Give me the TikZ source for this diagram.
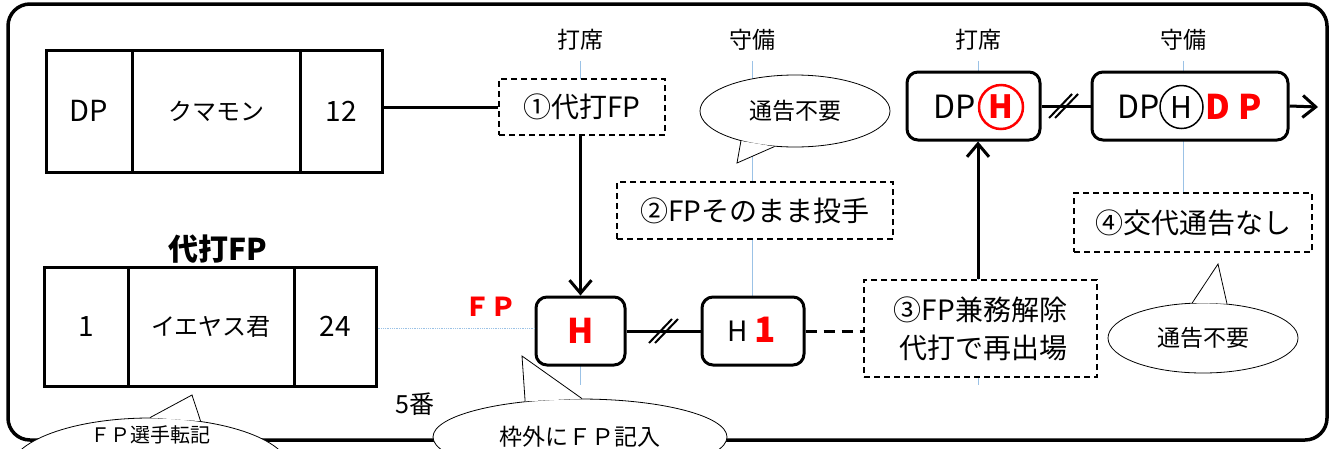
\documentclass[tikz,border=0pt]{standalone}
\usepackage{fontspec}
\setmainfont{Noto Sans CJK JP}
\usetikzlibrary{shapes.geometric,arrows.meta,calc}
\definecolor{guideblue}{RGB}{155,194,230}
\definecolor{hred}{RGB}{255,0,0}
\tikzset{
  cell/.style={draw, line width=3pt, fill=white, inner sep=0pt},
  rbox/.style={draw, line width=3pt, rounded corners=11pt, fill=white, inner sep=0pt, minimum height=68pt},
  dbox/.style={draw, line width=2pt, dash pattern=on 6pt off 4pt, fill=white, inner sep=0pt, font=\fontsize{28}{38}\selectfont},
  bubble/.style={ellipse, draw, line width=0.8pt, fill=white, inner sep=0pt, font=\fontsize{23}{26}\selectfont},
  guide/.style={draw=guideblue, line width=0.8pt},
  conn/.style={line width=3pt},
  arr/.style={line width=3pt, -{Straight Barb[length=13pt,width=22pt]}},
  slash/.style={line width=2pt},
  lbl/.style={inner sep=0pt, font=\fontsize{23}{26}\selectfont},
  plain/.style={inner sep=0pt}
}
\begin{document}
\begin{tikzpicture}[x=1pt,y=-1pt]
\useasboundingbox (0,0) rectangle (1335,448);
\begin{scope}
\clip (0,0) rectangle (1335,448);
\fill[white] (0,0) rectangle (1335,448);

% column labels
\node[lbl] (lbl1) at (580,40) {打席};
\node[lbl] (lbl2) at (752,40) {守備};
\node[lbl] (lbl3) at (978,40) {打席};
\node[lbl] (lbl4) at (1183,40) {守備};

\coordinate (g1b) at (580,385);
\coordinate (g3b) at (978,385);

% outer frame
\draw[line width=3.5pt, rounded corners=22pt] (8,4) rectangle (1327,440);

% guide lines (behind boxes)
\draw[guide] ([yshift=-10pt]lbl1.south) -- (g1b);
\draw[guide] ([yshift=-10pt]lbl2.south) -- (752,297);
\draw[guide] ([yshift=-10pt]lbl3.south) -- (g3b);
\draw[guide] ([yshift=-10pt]lbl4.south) -- (1183,193);

% lineup cards
\node[cell, minimum width=86pt, minimum height=122pt, font=\fontsize{29}{32}\selectfont] (kdp) at (89,111) {DP};
\node[cell, minimum width=168pt, minimum height=122pt, font=\fontsize{24}{28}\selectfont] (kname) at (216,111) {クマモン};
\node[cell, minimum width=82pt, minimum height=122pt, font=\fontsize{28}{32}\selectfont] (k12) at (341,111) {12};

\node[plain, font=\fontsize{30}{32}\selectfont\bfseries] (tlbl) at (218,249) {代打FP};
\node[cell, minimum width=84pt, minimum height=119pt, font=\fontsize{28}{32}\selectfont] (k1) at (86,326.5) {1};
\node[cell, minimum width=166pt, minimum height=119pt, font=\fontsize{24}{28}\selectfont] (kname2) at (211,326.5) {イエヤス君};
\node[cell, minimum width=82pt, minimum height=119pt, font=\fontsize{28}{32}\selectfont] (k24) at (335,326.5) {24};

\node[plain, font=\fontsize{25}{28}\selectfont] (ban) at (415,404) {5番};
\node[plain, text=hred, font=\fontsize{26}{28}\selectfont\bfseries] (fp) at (490,307) {ＦＰ};

% step boxes
\node[dbox, minimum width=166pt, minimum height=56pt] (s1) at (582,107) {①代打FP};
\node[dbox, minimum width=276pt, minimum height=57pt] (s2) at (755,210.5) {②FPそのまま投手};
\node[dbox, minimum width=233pt, minimum height=97pt, align=right] (s3) at (980.5,328.5) {③FP兼務解除\\代打で再出場};
\node[dbox, minimum width=238pt, minimum height=59pt] (s4) at (1193,222.5) {④交代通告なし};

% state boxes
\node[rbox, minimum width=89pt, text=hred, font=\fontsize{34}{36}\selectfont\bfseries] (h) at (580.5,331) {H};
\node[rbox, minimum width=102pt] (h1) at (753,331) {};
\node[plain, font=\fontsize{28}{30}\selectfont] (h1a) at (737.5,331) {H};
\node[plain, text=hred, font=\fontsize{35}{36}\selectfont\bfseries] (h1b) at (765,330) {1};

\node[rbox, minimum width=133pt] (dph) at (973.5,106) {};
\node[plain, font=\fontsize{32}{34}\selectfont] (dpha) at (955,107) {DP};
\node[circle, draw=hred, line width=2.5pt, minimum size=44pt, inner sep=0pt, text=hred, font=\fontsize{32}{34}\selectfont\bfseries] (dphb) at (1001,107) {H};

\node[rbox, minimum width=196pt] (dphdp) at (1190,106) {};
\node[plain, font=\fontsize{32}{34}\selectfont] (dpa) at (1138.5,107) {DP};
\node[circle, draw, line width=1.5pt, minimum size=43pt, inner sep=0pt, font=\fontsize{30}{32}\selectfont] (dpb) at (1181.5,107) {H};
\node[plain, text=hred, font=\fontsize{34}{36}\selectfont\bfseries] (dpc) at (1233.5,107) {D P};

\coordinate (endR) at (1318,107);

% connectors
\draw[conn] (k12.east |- s1.west) -- (s1.west);
\draw[guide, densely dotted] (k24.east |- 0,328) -- (h.west |- 0,328);
\draw[arr] (s1.south -| h.north) -- (h.north);
\draw[conn] (h.east) -- (h1.west);
\path (h.east) -- (h1.west) coordinate[pos=0.5] (m1);
\draw[slash] ($(m1)+(-14.5,12)$) -- ($(m1)+(8.5,-12)$);
\draw[slash] ($(m1)+(-8.5,12)$) -- ($(m1)+(14.5,-12)$);
\draw[line width=3pt, dash pattern=on 11pt off 7pt] (h1.east) -- (s3.west |- h1.east);
\draw[arr] (s3.north -| lbl3.south) -- (dph.south -| lbl3.south);
\draw[conn] (dph.east) -- (dphdp.west);
\path (dph.east) -- (dphdp.west) coordinate[pos=0.45] (m2);
\draw[slash] ($(m2)+(-14.5,12)$) -- ($(m2)+(8.5,-12)$);
\draw[slash] ($(m2)+(-8.5,12)$) -- ($(m2)+(14.5,-12)$);
\draw[arr] (dphdp.east) -- (endR);

% speech bubbles
\node[bubble, minimum width=190pt, minimum height=72pt] (bA) at (795,111) {通告不要};
\coordinate (tA) at (737,163);
\fill[white] (bA.209.5) -- (tA) -- (bA.240) -- cycle;
\draw[line width=0.8pt] (bA.209.5) -- (tA) -- (bA.240);

\node[bubble, minimum width=190pt, minimum height=70pt] (bB) at (1203,338) {通告不要};
\coordinate (tB) at (1218,264);
\fill[white] (bB.107) -- (tB) -- (bB.55) -- cycle;
\draw[line width=0.8pt] (bB.107) -- (tB) -- (bB.55);

\node[bubble, minimum width=294pt, minimum height=76pt] (bC) at (580,437) {枠外にＦＰ記入};
\coordinate (tC) at (522,356);
\fill[white] (bC.147) -- (tC) -- (bC.87) -- cycle;
\draw[line width=0.8pt] (bC.147) -- (tC) -- (bC.87);

\node[bubble, minimum width=280pt, minimum height=104pt] (bD) at (150,470) {};
\node[plain, font=\fontsize{20}{22}\selectfont] (bDt) at (150,435) {ＦＰ選手転記};
\coordinate (tD) at (192,395);
\fill[white] (bD.90) -- (tD) -- (bD.44) -- cycle;
\draw[line width=0.8pt] (bD.90) -- (tD) -- (bD.44);
\end{scope}
\end{tikzpicture}
\end{document}
